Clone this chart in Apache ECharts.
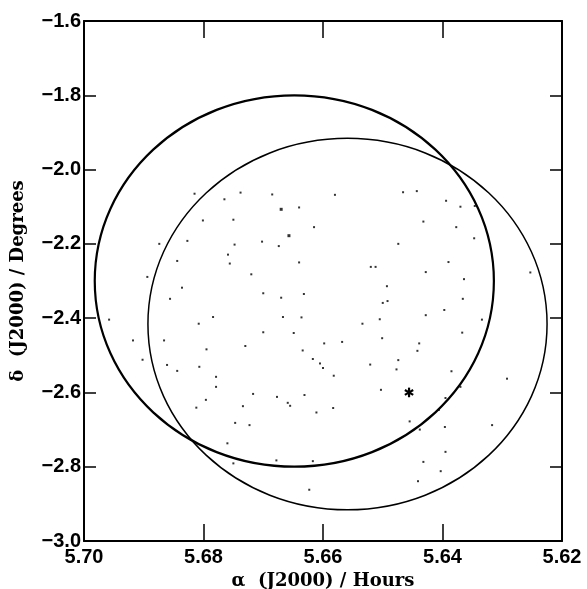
<!DOCTYPE html>
<html>
<head>
<meta charset="utf-8">
<script src="https://cdn.jsdelivr.net/npm/echarts@6/dist/echarts.min.js"></script>
<style>
  html, body { margin: 0; padding: 0; background: #fff; }
  #chart { width: 587px; height: 589px; }
</style>
</head>
<body>
<div id="chart"></div>
<script>
// faint field sources (RA hours / Dec degrees)
var dotRa = [
  5.6815, 5.6765, 5.6738, 5.6685, 5.6640, 5.6801, 5.6750, 5.6615, 5.6874, 5.6827,
  5.6748, 5.6702, 5.6674, 5.6759, 5.6756, 5.6844, 5.6640, 5.6894, 5.6720, 5.6836,
  5.6856, 5.6700, 5.6670, 5.6632, 5.6958, 5.6784, 5.6808, 5.6667, 5.6636, 5.6700,
  5.6649, 5.6918, 5.6866, 5.6598, 5.6730, 5.6795, 5.6580, 5.6466, 5.6443, 5.6394,
  5.6370, 5.6346, 5.6432, 5.6377, 5.6347, 5.6474, 5.6520, 5.6512, 5.6390, 5.6428,
  5.6364, 5.6253, 5.6493, 5.6500, 5.6492, 5.6366, 5.6397, 5.6505, 5.6428, 5.6334,
  5.6534, 5.6367, 5.6501, 5.6568, 5.6439, 5.6902, 5.6861, 5.6844, 5.6807, 5.6779,
  5.6779, 5.6717, 5.6796, 5.6812, 5.6734, 5.6677, 5.6659, 5.6655, 5.6631, 5.6611,
  5.6747, 5.6723, 5.6760, 5.6750, 5.6678, 5.6617, 5.6623, 5.6634, 5.6617, 5.6605,
  5.6600, 5.6442, 5.6474, 5.6477, 5.6521, 5.6582, 5.6385, 5.6292, 5.6370, 5.6503,
  5.6395, 5.6583, 5.6406, 5.6455, 5.6438, 5.6396, 5.6317, 5.6395, 5.6432, 5.6403,
  5.6441
];
var dotDec = [
  -2.065, -2.080, -2.062, -2.067, -2.102, -2.137, -2.135, -2.155, -2.200, -2.192,
  -2.202, -2.194, -2.206, -2.229, -2.253, -2.246, -2.250, -2.289, -2.282, -2.318,
  -2.348, -2.333, -2.345, -2.335, -2.404, -2.397, -2.415, -2.397, -2.398, -2.438,
  -2.440, -2.460, -2.460, -2.468, -2.475, -2.484, -2.068, -2.061, -2.058, -2.084,
  -2.100, -2.098, -2.140, -2.155, -2.185, -2.200, -2.262, -2.262, -2.249, -2.276,
  -2.295, -2.277, -2.314, -2.359, -2.354, -2.348, -2.378, -2.403, -2.392, -2.404,
  -2.415, -2.439, -2.454, -2.464, -2.468, -2.512, -2.526, -2.542, -2.531, -2.558,
  -2.585, -2.604, -2.620, -2.641, -2.637, -2.612, -2.628, -2.636, -2.607, -2.654,
  -2.682, -2.688, -2.737, -2.791, -2.783, -2.785, -2.862, -2.487, -2.510, -2.522,
  -2.534, -2.488, -2.513, -2.538, -2.525, -2.555, -2.543, -2.563, -2.585, -2.593,
  -2.615, -2.642, -2.647, -2.678, -2.700, -2.693, -2.688, -2.760, -2.787, -2.812,
  -2.839
];
// slightly brighter sources
var brightRa = [5.6670, 5.6657];
var brightDec = [-2.107, -2.178];
// target position
var targetRa = [5.6456];
var targetDec = [-2.600];
// field circles: centre RA, centre Dec, half-width in RA (hours), radius in Dec (deg)
var ringRa = [5.6648, 5.6559];
var ringDec = [-2.300, -2.416];
var ringHalfRa = [0.0334, 0.0334];
var ringHalfDec = [0.5, 0.5];
var ringWidth = [2.2, 1.5];

var xTicks = [5.62, 5.70, 0.02];
var yTicks = [-3.0, -1.6, 0.2];

function pairs(a, b) {
  return a.map(function (v, i) { return [v, b[i]]; });
}

var myChart = echarts.init(document.getElementById("chart"));

var tickFont = { fontFamily: "Liberation Sans", fontSize: 20, fontWeight: "bold", color: "#000" };
var nameFont = { fontFamily: "DejaVu Serif", fontSize: 18, color: "#000", fontWeight: "bold" };

var option = {
  animation: false,
  backgroundColor: "#fff",
  grid: { left: 84, right: 25, top: 21, bottom: 48, containLabel: false, outerBoundsMode: "none" },
  xAxis: [
    {
      type: "value",
      inverse: true,
      min: xTicks[0],
      max: xTicks[1],
      interval: xTicks[2],
      name: "α  (J2000) / Hours",
      nameLocation: "middle",
      nameGap: 31,
      nameTextStyle: nameFont,
      axisLine: { show: true, onZero: false, lineStyle: { color: "#000", width: 2 } },
      axisTick: { show: true, inside: true, length: 17, lineStyle: { color: "#000", width: 1.5 } },
      axisLabel: Object.assign({ margin: 6, formatter: function (v) { return v.toFixed(2); } }, tickFont),
      splitLine: { show: false },
    },
    {
      type: "value",
      position: "top",
      inverse: true,
      min: xTicks[0],
      max: xTicks[1],
      interval: xTicks[2],
      axisLine: { show: true, onZero: false, lineStyle: { color: "#000", width: 2 } },
      axisTick: { show: true, inside: true, length: 17, lineStyle: { color: "#000", width: 1.5 } },
      axisLabel: { show: false },
      splitLine: { show: false },
    },
  ],
  yAxis: [
    {
      type: "value",
      min: yTicks[0],
      max: yTicks[1],
      interval: yTicks[2],
      name: "δ  (J2000) / Degrees",
      nameLocation: "middle",
      nameGap: 57,
      nameTextStyle: nameFont,
      axisLine: { show: true, onZero: false, lineStyle: { color: "#000", width: 2 } },
      axisTick: { show: true, inside: true, length: 12, lineStyle: { color: "#000", width: 1.5 } },
      axisLabel: Object.assign({
        margin: 3,
        formatter: function (v) { return v.toFixed(1).replace("-", "\u2212"); },
      }, tickFont),
      splitLine: { show: false },
    },
    {
      type: "value",
      position: "right",
      min: yTicks[0],
      max: yTicks[1],
      interval: yTicks[2],
      axisLine: { show: true, onZero: false, lineStyle: { color: "#000", width: 2 } },
      axisTick: { show: true, inside: true, length: 12, lineStyle: { color: "#000", width: 1.5 } },
      axisLabel: { show: false },
      splitLine: { show: false },
    },
  ],
  series: [
    {
      name: "rings",
      type: "custom",
      xAxisIndex: 0,
      yAxisIndex: 0,
      clip: false,
      data: ringRa.map(function (v, i) {
        return [v, ringDec[i], ringHalfRa[i], ringHalfDec[i], ringWidth[i]];
      }),
      renderItem: function (params, api) {
        var c = api.coord([api.value(0), api.value(1)]);
        var s = api.size([api.value(2), api.value(3)], [api.value(0), api.value(1)]);
        return {
          type: "ellipse",
          shape: { cx: c[0], cy: c[1], rx: s[0], ry: s[1] },
          style: { fill: null, stroke: "#000", lineWidth: api.value(4) },
        };
      },
    },
    {
      name: "field",
      type: "scatter",
      symbol: "rect",
      symbolSize: 2,
      itemStyle: { color: "#000" },
      data: pairs(dotRa, dotDec),
    },
    {
      name: "bright",
      type: "scatter",
      symbol: "rect",
      symbolSize: 3,
      itemStyle: { color: "#000" },
      data: pairs(brightRa, brightDec),
    },
    {
      // asterisk marker for the target
      name: "target",
      type: "custom",
      data: pairs(targetRa, targetDec),
      renderItem: function (params, api) {
        var c = api.coord([api.value(0), api.value(1)]);
        var r = 4.8;
        var arms = [];
        [90, 30, 150].forEach(function (deg) {
          var a = (deg * Math.PI) / 180;
          var dx = r * Math.cos(a), dy = r * Math.sin(a);
          arms.push({
            type: "line",
            shape: { x1: c[0] - dx, y1: c[1] - dy, x2: c[0] + dx, y2: c[1] + dy },
            style: { stroke: "#000", lineWidth: 2.2 },
          });
        });
        return { type: "group", children: arms };
      },
    },
  ],
};

myChart.setOption(option);

window.addEventListener("resize", function () {
  if (myChart) myChart.resize();
});
</script>
</body>
</html>
